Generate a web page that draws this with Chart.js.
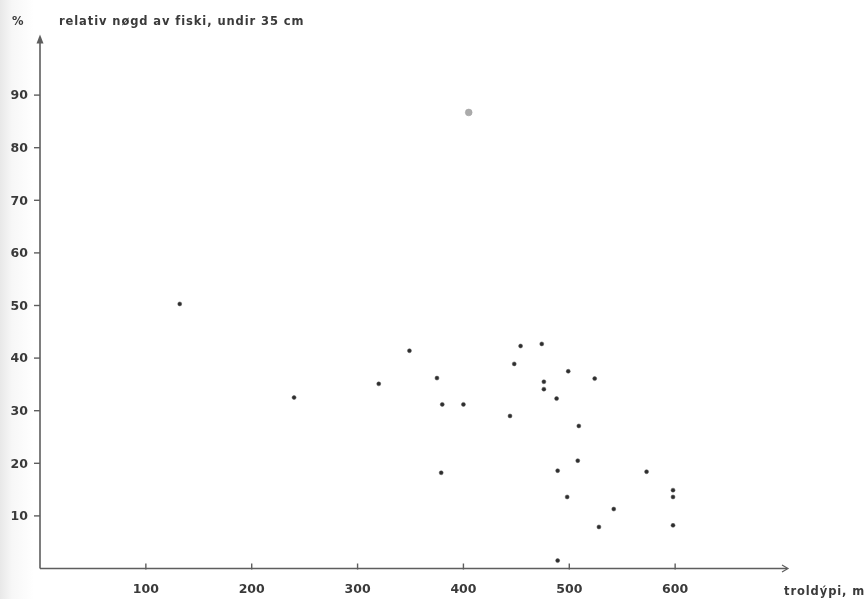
<!DOCTYPE html>
<html>
<head>
<meta charset="utf-8">
<script src="https://cdn.jsdelivr.net/npm/chart.js@4/dist/chart.umd.min.js"></script>
<style>
  html, body { margin: 0; padding: 0; }
  body {
    width: 868px; height: 599px; overflow: hidden;
    background: linear-gradient(to right, #e8e8e8 0px, #f7f7f7 12px, #ffffff 34px);
  }
  canvas { display: block; }
</style>
</head>
<body>
<canvas id="scatter" width="868" height="599"></canvas>
<script>
// trawl depth (m) and share of fish under 35 cm (%)
const depth = [132, 240, 320, 349, 375, 380, 379, 400, 444, 448, 454, 474, 476, 476,
               488, 499, 509, 524, 489, 508, 573, 498, 542, 528, 598, 598, 598, 489];
const share = [50.3, 32.5, 35.1, 41.4, 36.2, 31.2, 18.2, 31.2, 29.0, 38.9, 42.3, 42.7, 35.5, 34.1,
               32.3, 37.5, 27.1, 36.1, 18.6, 20.5, 18.4, 13.6, 11.3, 7.9, 14.9, 13.6, 8.2, 1.5];
// the faint outlier up top
const outlierDepth = [405];
const outlierShare = [86.7];

const xTicks = [100, 200, 300, 400, 500, 600];
const yTicks = [10, 20, 30, 40, 50, 60, 70, 80, 90];

const title = 'relativ nøgd av fiski, undir 35 cm';
const yUnit = '%';
const xTitle = 'troldýpi, m';

const ink = '#3a3a3a';
const axisColor = '#5e5e5e';
const labelFont = 'bold 12.5px "DejaVu Sans", Arial, sans-serif';

// axes with arrow heads, tick marks and labels, drawn off the chart scales
const handAxes = {
  id: 'handAxes',
  afterDraw(chart) {
    const { ctx, chartArea: a, scales: { x, y } } = chart;
    const x0 = x.getPixelForValue(0);
    const y0 = y.getPixelForValue(0);
    ctx.save();
    ctx.strokeStyle = axisColor;
    ctx.fillStyle = axisColor;
    ctx.lineWidth = 1.6;

    // y axis
    ctx.beginPath();
    ctx.moveTo(x0, y0);
    ctx.lineTo(x0, a.top - 2);
    ctx.stroke();
    ctx.beginPath();
    ctx.moveTo(x0, a.top - 8);
    ctx.lineTo(x0 - 3.5, a.top + 1);
    ctx.lineTo(x0 + 3.5, a.top + 1);
    ctx.closePath();
    ctx.fill();

    // x axis
    ctx.beginPath();
    ctx.moveTo(x0, y0);
    ctx.lineTo(a.right + 6, y0);
    ctx.stroke();
    ctx.lineWidth = 1.2;
    ctx.beginPath();
    ctx.moveTo(a.right + 1, y0 - 3.5);
    ctx.lineTo(a.right + 7, y0);
    ctx.lineTo(a.right + 1, y0 + 3.5);
    ctx.stroke();

    ctx.lineWidth = 1.4;
    ctx.fillStyle = ink;
    ctx.font = labelFont;

    // y ticks point outward
    ctx.textAlign = 'right';
    ctx.textBaseline = 'middle';
    yTicks.forEach(v => {
      const py = y.getPixelForValue(v);
      ctx.beginPath();
      ctx.moveTo(x0 - 6, py);
      ctx.lineTo(x0, py);
      ctx.stroke();
      ctx.fillText(String(v), x0 - 12, py + 1);
    });

    // x ticks point inward
    ctx.textAlign = 'center';
    ctx.textBaseline = 'alphabetic';
    xTicks.forEach(v => {
      const px = x.getPixelForValue(v);
      ctx.beginPath();
      ctx.moveTo(px, y0 + 1);
      ctx.lineTo(px, y0 - 5);
      ctx.stroke();
      ctx.fillText(String(v), px, y0 + 24);
    });

    // titles
    ctx.font = 'bold 11.5px "DejaVu Sans", Arial, sans-serif';
    ctx.textAlign = 'left';
    ctx.fillText(yUnit, 12, 25);
    ctx.letterSpacing = '0.9px';
    ctx.fillText(title, 59, 25);
    ctx.letterSpacing = '0.9px';
    ctx.fillText(xTitle, a.right + 3, y0 + 26);
    ctx.restore();
  }
};

new Chart(document.getElementById('scatter'), {
  type: 'scatter',
  data: {
    datasets: [{
      data: depth.map((d, i) => ({ x: d, y: share[i] })),
      backgroundColor: '#2e2e2e',
      borderColor: '#555',
      borderWidth: 0.5,
      pointRadius: 2
    }, {
      data: outlierDepth.map((d, i) => ({ x: d, y: outlierShare[i] })),
      backgroundColor: 'rgba(135,135,135,0.7)',
      borderColor: 'rgba(160,160,160,0.5)',
      borderWidth: 1,
      pointRadius: 3.4
    }]
  },
  options: {
    responsive: false,
    animation: false,
    layout: { padding: { left: 40, top: 42.5, right: 87, bottom: 30.5 } },
    plugins: { legend: { display: false }, tooltip: { enabled: false } },
    scales: {
      x: { type: 'linear', min: 0, max: 700, display: false },
      y: { type: 'linear', min: 0, max: 100, display: false }
    }
  },
  plugins: [handAxes]
});
</script>
</body>
</html>
